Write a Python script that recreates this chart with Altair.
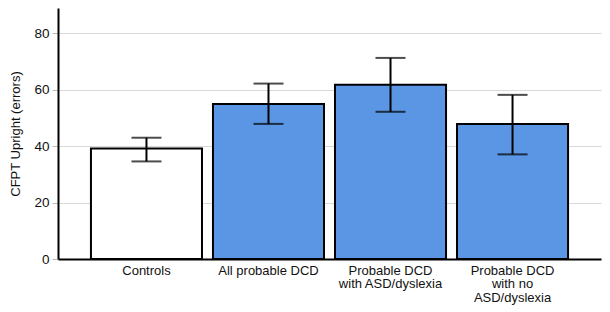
import altair as alt
import pandas as pd

categories = ["Controls", "All probable DCD", "Probable DCD|with ASD/dyslexia", "Probable DCD|with no|ASD/dyslexia"]
means = [39.2, 55.0, 61.8, 47.9]
err_low = [34.6, 47.9, 52.2, 37.1]
err_high = [43.0, 62.2, 71.3, 58.2]

df = pd.DataFrame({"group": categories, "mean": means, "lo": err_low, "hi": err_high})

FONT = "Liberation Sans"

x = alt.X(
    "group:N",
    sort=categories,
    scale=alt.Scale(paddingInner=0.09, paddingOuter=0.27),
    axis=alt.Axis(
        title=None,
        labelAngle=0,
        ticks=False,
        grid=False,
        domainColor="black",
        domainWidth=2,
        labelExpr="split(datum.value, '|')",
        labelFontSize=13,
        labelLineHeight=13.6,
        labelColor="#111111",
        labelFont=FONT,
        labelPadding=5,
        labelBaseline="top",
    ),
)

yscale = alt.Scale(domain=[0, 89], nice=False)

bars = alt.Chart(df).mark_bar(stroke="black", strokeWidth=2).encode(
    x=x,
    y=alt.Y(
        "mean:Q",
        scale=yscale,
        axis=alt.Axis(
            title="CFPT Upright (errors)",
            values=[0, 20, 40, 60, 80],
            grid=True,
            gridColor="#d9d9d9",
            gridWidth=1.2,
            domainColor="black",
            domainWidth=2,
            tickColor="#bbbbbb",
            tickSize=6,
            labelFontSize=13.5,
            labelColor="#111111",
            labelFont=FONT,
            labelPadding=3,
            titleFont=FONT,
            titleFontSize=13,
            titleFontWeight="normal",
            titleColor="#111111",
            titlePadding=11,
        ),
    ),
    fill=alt.condition(alt.datum.group == "Controls", alt.value("white"), alt.value("#5a96e3")),
)

rules = alt.Chart(df).mark_rule(color="black", strokeWidth=2).encode(
    x=alt.X("group:N", sort=categories),
    y=alt.Y("lo:Q", scale=yscale),
    y2="hi:Q",
)

cap_lo = alt.Chart(df).mark_tick(color="black", thickness=2, size=30).encode(
    x=alt.X("group:N", sort=categories),
    y=alt.Y("lo:Q", scale=yscale),
)
cap_hi = alt.Chart(df).mark_tick(color="black", thickness=2, size=30).encode(
    x=alt.X("group:N", sort=categories),
    y=alt.Y("hi:Q", scale=yscale),
)

chart = (
    alt.layer(bars, rules, cap_lo, cap_hi)
    .properties(
        width=543,
        height=251,
        autosize=alt.AutoSizeParams(type="none"),
        padding={"left": 58, "top": 8, "right": 9, "bottom": 53},
        background="white",
    )
    .configure_view(stroke=None)
)

chart.save("out.html", embed_options={"renderer": "svg", "actions": False})
